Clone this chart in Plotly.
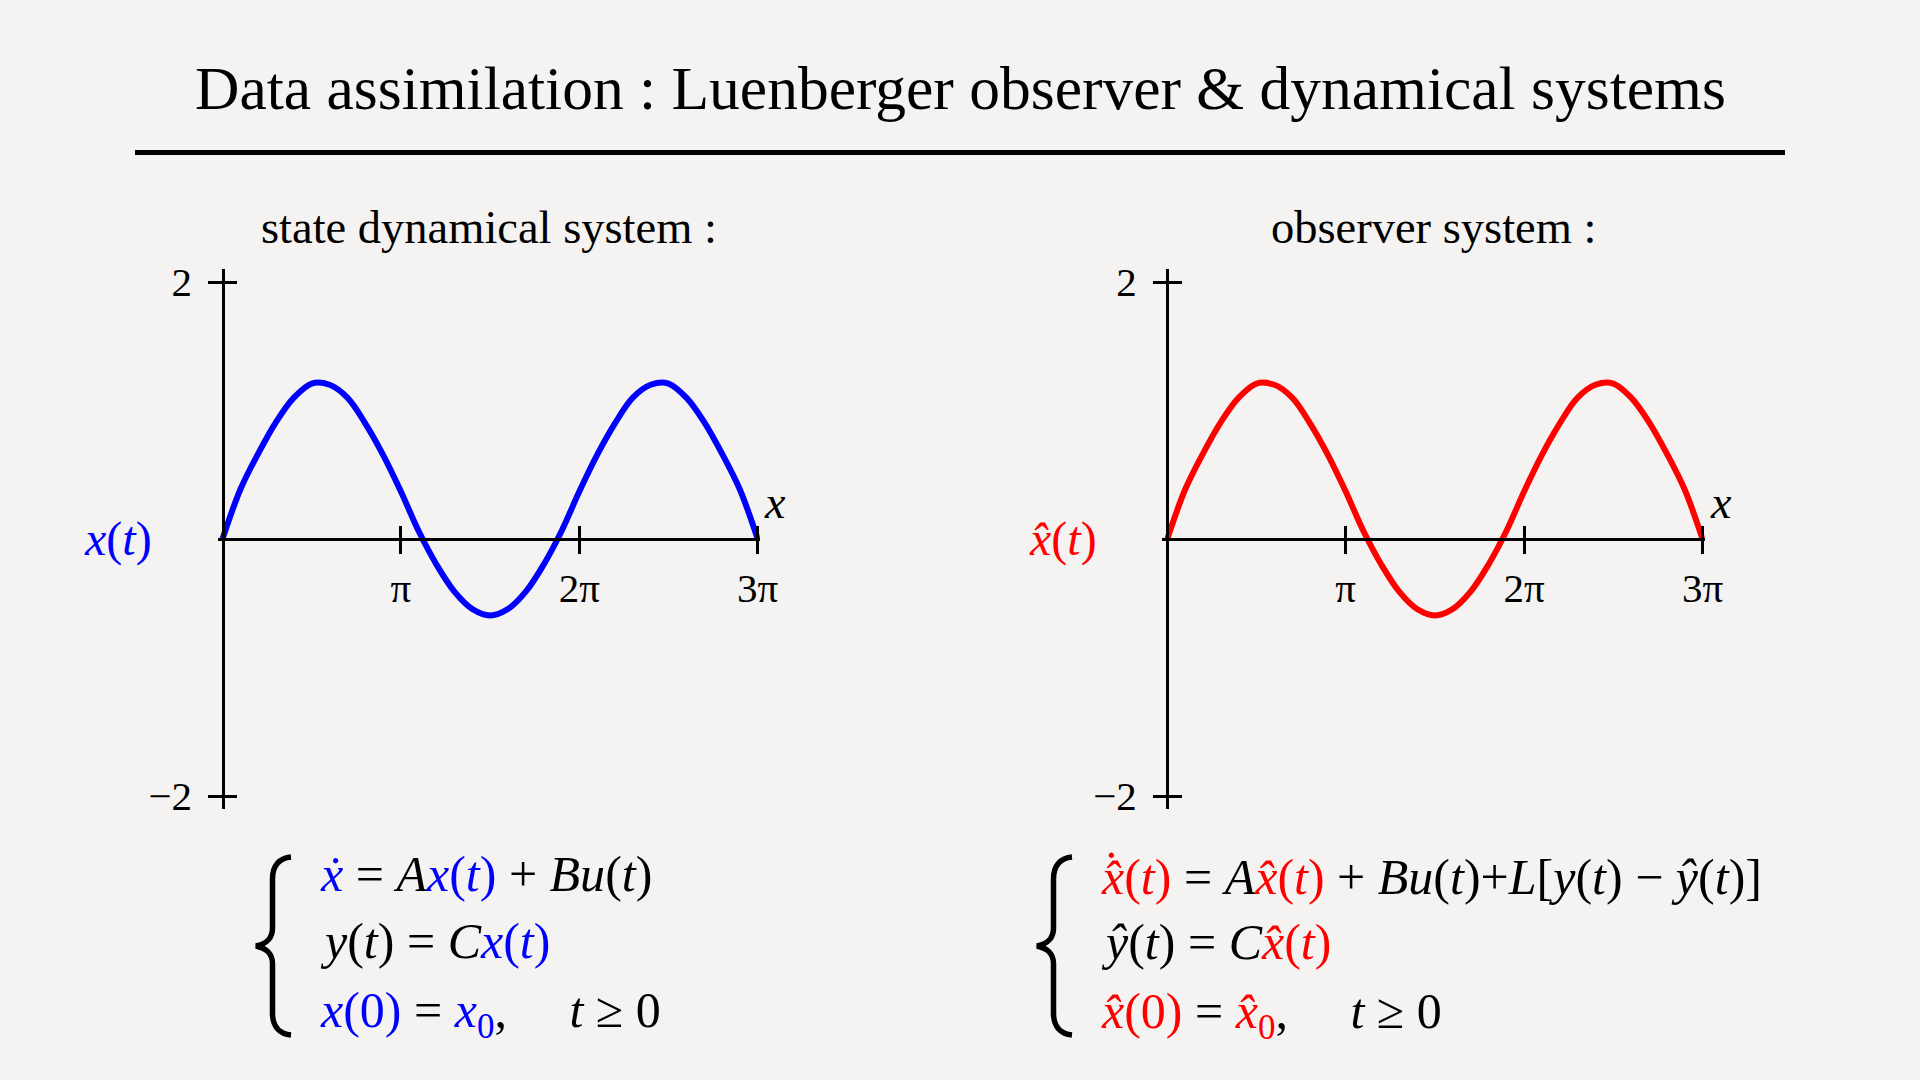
import plotly.graph_objects as go

# ---------------- data (x in units of pi) ----------------
x_pi = [0, 0.1, 0.2, 0.3, 0.4, 0.5, 0.6, 0.7, 0.8, 0.9, 1.0, 1.1, 1.2, 1.3, 1.4, 1.5,
        1.6, 1.7, 1.8, 1.9, 2.0, 2.1, 2.2, 2.3, 2.4, 2.5, 2.6, 2.7, 2.8, 2.9, 3.0]
state_y = [0, 0.385, 0.665, 0.91, 1.10, 1.21, 1.20, 1.10, 0.90, 0.655, 0.37, 0.06,
           -0.20, -0.41, -0.545, -0.595, -0.545, -0.41, -0.20, 0.06, 0.37, 0.655,
           0.90, 1.10, 1.20, 1.21, 1.10, 0.91, 0.665, 0.385, 0]
observer_y = [0, 0.385, 0.665, 0.91, 1.10, 1.21, 1.20, 1.10, 0.90, 0.655, 0.37, 0.06,
              -0.20, -0.41, -0.545, -0.595, -0.545, -0.41, -0.20, 0.06, 0.37, 0.655,
              0.90, 1.10, 1.20, 1.21, 1.10, 0.91, 0.665, 0.385, 0]
x_tickvals = [1, 2, 3]
x_ticktext = ["π", "2π", "3π"]
y_tickvals = [-2, 2]
y_ticktext = ["−2", "2"]

# ---------------- layout helpers ----------------
W, H = 1920, 1080
BG = "#f4f3f1"
BLUE = "#0000ff"
RED = "#ff0000"
FONT = "Liberation Serif"

def px(x):
    return x / W

def py(y):
    return 1 - y / H

PI_PX = 178.4
UNIT_PX = 128.5
X_RANGE = [-0.027, 3.012]
Y_RANGE = [-2.1, 2.1]
AXIS_Y = 539.0
LEFT_O = 222.5
RIGHT_O = 1167.3

def xdom(o):
    return [px(o + X_RANGE[0] * PI_PX), px(o + X_RANGE[1] * PI_PX)]

YDOM = [py(AXIS_Y - Y_RANGE[0] * UNIT_PX), py(AXIS_Y - Y_RANGE[1] * UNIT_PX)]

TL = 13.5
TW = 2.6
LW = 2.6
tickfont = dict(family=FONT, size=41, color="black")

def main_x(o):
    return dict(domain=xdom(o), range=X_RANGE, tickvals=x_tickvals, ticktext=x_ticktext,
                ticks="outside", ticklen=TL, tickwidth=TW, tickcolor="black",
                showline=True, linewidth=LW, linecolor="black", showgrid=False,
                zeroline=False, tickfont=tickfont, anchor="free", position=py(AXIS_Y),
                ticklabelstandoff=-2, automargin=False, fixedrange=True)

def over_x(base):
    return dict(range=X_RANGE, tickvals=x_tickvals, ticks="outside", ticklen=TL,
                tickwidth=TW, tickcolor="black", side="top", showticklabels=False,
                showline=False, showgrid=False, zeroline=False, anchor="free",
                position=py(AXIS_Y), overlaying=base, automargin=False, fixedrange=True)

def main_y(o):
    return dict(domain=YDOM, range=Y_RANGE, tickvals=y_tickvals, ticktext=y_ticktext,
                ticks="outside", ticklen=TL, tickwidth=TW, tickcolor="black",
                showline=True, linewidth=LW, linecolor="black", showgrid=False,
                zeroline=False, tickfont=tickfont, anchor="free", position=px(o),
                ticklabelstandoff=8, automargin=False, fixedrange=True)

def over_y(o, base):
    return dict(range=Y_RANGE, tickvals=y_tickvals, ticks="outside", ticklen=TL,
                tickwidth=TW, tickcolor="black", side="right", showticklabels=False,
                showline=False, showgrid=False, zeroline=False, anchor="free",
                position=px(o), overlaying=base, automargin=False, fixedrange=True)

fig = go.Figure()
fig.add_trace(go.Scatter(x=x_pi, y=state_y, mode="lines", xaxis="x", yaxis="y",
                         line=dict(color=BLUE, width=6, shape="spline", smoothing=1.0),
                         hoverinfo="skip", showlegend=False))
fig.add_trace(go.Scatter(x=x_pi, y=observer_y, mode="lines", xaxis="x2", yaxis="y2",
                         line=dict(color=RED, width=6, shape="spline", smoothing=1.0),
                         hoverinfo="skip", showlegend=False))
fig.add_trace(go.Scatter(x=[None], y=[None], xaxis="x3", yaxis="y3", mode="lines",
                         showlegend=False, hoverinfo="skip"))
fig.add_trace(go.Scatter(x=[None], y=[None], xaxis="x4", yaxis="y4", mode="lines",
                         showlegend=False, hoverinfo="skip"))


def c(s, col):
    return f"<span style='color:{col}'>{s}</span>"

XH = "<i>x\u0302</i>"
T = "(<i>t</i>)"
GAP = "\u00a0\u00a0\u00a0\u00a0\u00a0"

annotations = []

def ann(text, x, y, size, xanchor="center", yanchor="middle", color="black"):
    annotations.append(dict(text=text, x=px(x), y=py(y), xref="paper", yref="paper",
                            xanchor=xanchor, yanchor=yanchor, showarrow=False,
                            font=dict(family=FONT, size=size, color=color)))

ann("Data assimilation : Luenberger observer &amp; dynamical systems", 960, 88, 61.5)
ann("state dynamical system :", 488.5, 227, 46.5)
ann("observer system :", 1433.5, 227, 46.5)
ann(c("<i>x</i>" + T, BLUE), 118, 539, 48)
ann(c(XH + T, RED), 1062.7, 539, 48)
ann("<i>x</i>", 775, 502, 46)
ann("<i>x</i>", 1720.5, 502, 46)

EQ = 50
ann(c("<i>ẋ</i>", BLUE) + " = <i>A</i>" + c("<i>x</i>" + T, BLUE) + " + <i>Bu</i>" + T,
    318, 874, EQ, xanchor="left")
ann("<i>y</i>" + T + " = <i>C</i>" + c("<i>x</i>" + T, BLUE), 318, 941, EQ, xanchor="left")
ann(c("<i>x</i>(0)", BLUE) + " = " + c("<i>x</i><sub>0</sub>", BLUE) + "," + GAP + "<i>t</i> ≥ 0",
    318, 1014, EQ, xanchor="left")

ann(c(XH + T, RED) + " = <i>A</i>" + c(XH + T, RED) + " + <i>Bu</i>" + T
    + "+<i>L</i>[<i>y</i>" + T + " − <i>ŷ</i>" + T + "]", 1099, 877, EQ, xanchor="left")
# dot of the time derivative, stacked above the hat
ann(c("˙", RED), 1111, 869, 50)
ann("<i>ŷ</i>" + T + " = <i>C</i>" + c(XH + T, RED), 1099, 942, EQ, xanchor="left")
ann(c(XH + "(0)", RED) + " = " + c(XH + "<sub>0</sub>", RED) + "," + GAP + "<i>t</i> ≥ 0",
    1099, 1014.5, EQ, xanchor="left")


def brace_path(xt, yc):
    pts = [
        ("M", [(xt + 35, yc - 89)]),
        ("C", [(xt + 24, yc - 88), (xt + 16.5, yc - 81), (xt + 16.5, yc - 67)]),
        ("L", [(xt + 16.5, yc - 18)]),
        ("C", [(xt + 16.5, yc - 6), (xt + 9, yc - 2), (xt, yc)]),
        ("C", [(xt + 9, yc + 2), (xt + 16.5, yc + 6), (xt + 16.5, yc + 18)]),
        ("L", [(xt + 16.5, yc + 67)]),
        ("C", [(xt + 16.5, yc + 81), (xt + 24, yc + 88), (xt + 35, yc + 89)]),
    ]
    parts = []
    for cmd, ps in pts:
        parts.append(cmd + " " + " ".join(f"{px(a):.5f},{py(b):.5f}" for a, b in ps))
    return " ".join(parts)

shapes = [
    dict(type="line", xref="paper", yref="paper", x0=px(135), x1=px(1785),
         y0=py(152.5), y1=py(152.5), line=dict(color="black", width=5)),
    dict(type="path", xref="paper", yref="paper", path=brace_path(256, 946),
         line=dict(color="black", width=5.5)),
    dict(type="path", xref="paper", yref="paper", path=brace_path(1037, 946),
         line=dict(color="black", width=5.5)),
]

fig.update_layout(
    template="none",
    width=W, height=H, margin=dict(l=0, r=0, t=0, b=0, pad=0, autoexpand=False),
    paper_bgcolor=BG, plot_bgcolor=BG, showlegend=False,
    xaxis=main_x(LEFT_O), yaxis=main_y(LEFT_O),
    xaxis2=main_x(RIGHT_O), yaxis2=main_y(RIGHT_O),
    xaxis3=over_x("x"), yaxis3=over_y(LEFT_O, "y"),
    xaxis4=over_x("x2"), yaxis4=over_y(RIGHT_O, "y2"),
    annotations=annotations, shapes=shapes,
)

fig.write_html("out.html", config={"displayModeBar": False})
